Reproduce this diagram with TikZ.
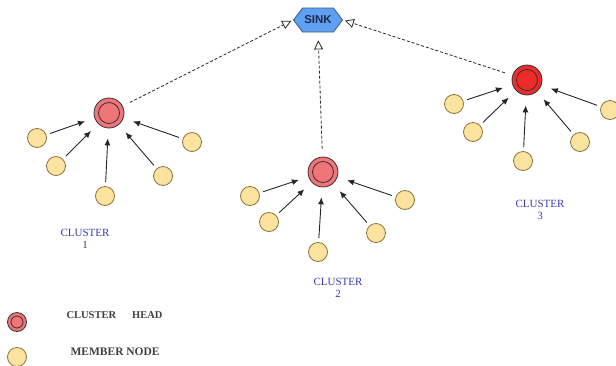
\documentclass[tikz,border=0pt]{standalone}
\usepackage{fontspec}
\setmainfont{Liberation Serif}
\setsansfont{Liberation Sans}
\usetikzlibrary{arrows.meta,shapes.symbols}

\definecolor{headred}{HTML}{F07478}
\definecolor{headbright}{HTML}{EE2A2A}
\definecolor{memberfill}{HTML}{FCE3A0}
\definecolor{memberline}{HTML}{8A7438}
\definecolor{sinkfill}{HTML}{5FA0F2}
\definecolor{sinkline}{HTML}{3A5A80}
\definecolor{sinktext}{HTML}{1C2B50}
\definecolor{labelblue}{HTML}{3A3AB0}

\begin{document}
\begin{tikzpicture}[
  x=1pt, y=-1pt,
  >={Latex[length=7pt,width=6pt]},
  member/.style={circle, draw=memberline, thick, fill=memberfill, minimum size=19pt, inner sep=0pt},
  head/.style={circle, draw=black!80, thick, fill=headred, minimum size=30pt, inner sep=0pt,
    path picture={\draw[black!80, thick] (path picture bounding box.center) circle (10.5pt);}},
  sink/.style={signal, signal to=west and east, signal pointer angle=106, draw=sinkline, thick,
    fill=sinkfill, minimum width=49pt, minimum height=24pt, inner sep=0pt,
    font=\sffamily\bfseries\fontsize{11.5}{12}\selectfont, text=sinktext},
  feed/.style={->, line width=0.9pt, black!85, shorten >=10pt, shorten <=4pt},
  uplink/.style={-{Triangle[open,length=9pt,width=9pt]}, black!85, line width=0.8pt,
    dash pattern=on 3pt off 2pt, shorten <=8pt, shorten >=2pt},
  cl/.style={font=\fontsize{11}{12}\selectfont, text=labelblue, align=center},
  lg/.style={font=\fontsize{10.5}{12}\selectfont\bfseries, text=black!75, anchor=west}
]
  \useasboundingbox (0,0) rectangle (616,365);

  % sink
  \node[sink] (sink) at (318,20) {SINK};

  % cluster 1
  \node[head] (ch1) at (109,113) {};
  \node[member] (m11) at (37,138) {};
  \node[member] (m12) at (56,166) {};
  \node[member] (m13) at (105,196) {};
  \node[member] (m14) at (163,176) {};
  \node[member] (m15) at (192,142) {};

  % cluster 2
  \node[head] (ch2) at (323,172) {};
  \node[member] (m21) at (250,196) {};
  \node[member] (m22) at (269,222) {};
  \node[member] (m23) at (318,252) {};
  \node[member] (m24) at (376,233) {};
  \node[member] (m25) at (405,200) {};

  % cluster 3
  \node[head, fill=headbright] (ch3) at (527,80) {};
  \node[member] (m31) at (454,104) {};
  \node[member] (m32) at (473,132) {};
  \node[member] (m33) at (523,161) {};
  \node[member] (m34) at (580,142) {};
  \node[member] (m35) at (610,110) {};

  % member -> head
  \foreach \c in {1,2,3}{
    \foreach \m in {1,...,5}{
      \draw[feed] (m\c\m) -- (ch\c);
    }
  }

  % head -> sink
  \draw[uplink] (ch1) -- (sink.west);
  \draw[uplink, shorten >=8pt] (ch2) -- (sink.south);
  \draw[uplink] (ch3) -- (sink.east);

  % cluster labels
  \node[cl] (lab1) at (85,239) {CLUSTER\\1};
  \node[cl] (lab2) at (338,288) {CLUSTER\\2};
  \node[cl] (lab3) at (540,210) {CLUSTER\\3};

  % legend
  \node[head, minimum size=19pt, path picture={\draw[black!80, thick] (path picture bounding box.center) circle (6pt);}] (lhead) at (17,322) {};
  \node[member] (lmember) at (17,357) {};
  \node[lg] (lhtext) at (63,315) {CLUSTER\hspace{16pt}HEAD};
  \node[lg, font=\fontsize{11.5}{12}\selectfont\bfseries] (lmtext) at (67,352) {MEMBER NODE};
\end{tikzpicture}
\end{document}
